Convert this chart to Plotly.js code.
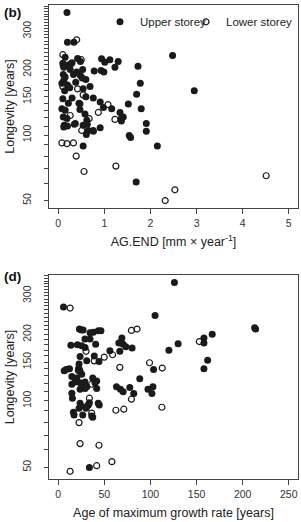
<!DOCTYPE html>
<html>
<head>
<meta charset="utf-8">
<script src="https://cdn.plot.ly/plotly-3.0.1.min.js"></script>
<style>html,body{margin:0;padding:0;background:#fff;}#chart{width:301px;height:522px;}</style>
</head>
<body>
<div id="chart"></div>
<script>
// Panel (b): AG.END [mm/year] vs longevity
const bUpperX = [0.19,0.20,0.34,0.15,0.10,0.22,0.27,0.30,0.42,0.48,0.53,0.40,0.12,0.94,1.01,1.12,1.30,0.78,0.93,0.99,1.23,1.73,2.48,2.95,1.78,1.70,1.52,1.80,1.16,1.34,1.41,1.37,0.91,0.98,0.76,0.69,0.54,0.30,0.10,0.11,0.15,0.12,0.08,0.20,0.25,0.14,0.48,0.52,0.38,0.60,0.08,0.15,0.11,0.19,0.37,0.47,0.58,0.62,0.54,0.65,0.76,0.91,0.61,0.13,0.12,0.20,0.35,0.63,0.76,1.91,1.91,1.54,1.57,2.15,0.54,1.69,1.37,0.22,0.45,0.60,0.26,0.33];
const bUpperY = [366,267,267,228,214,210,212,215,225,218,200,195,205,224,216,222,218,197,198,195,205,207,232,160,173,154,139,132,132,127,121,119,142,134,148,167,163,148,147,190,185,178,173,170,165,160,188,183,175,180,132,130,121,119,113,131,125,117,111,105,105,108,100.7,111,109,110,112,112,104,104,113,99.4,97.3,89,89,60.9,116,140,140,150,200,190];
const bLowerX = [0.40,0.10,0.50,0.11,0.10,0.42,0.54,0.47,1.08,0.87,1.23,0.26,0.67,0.51,0.08,0.19,0.33,0.39,0.56,1.25,2.32,2.53,4.51];
const bLowerY = [274,234,222,209,167,163,153,139,138,127,118,123,119,105,92,91.3,92,80,68,72,50,56,65];

// Panel (d): age of maximum growth rate [years] vs longevity
const dUpperX = [126,5.7,105,213,214,23,25,27,34.5,38,43.4,46.3,167,158,158,29,34.5,69,65.7,70.4,73.3,80.1,130,120,13.7,20.8,25.5,29.1,40.6,56,66.8,23.7,39.1,44.2,30.9,22.6,103.4,162,158,6.5,12.2,21.9,23.7,25.5,88.4,14.8,18.3,23.7,29.1,37.4,41.7,14.8,27.2,39.9,31,23.7,29.1,41.7,63.2,67.5,70.4,77.6,81.9,97.3,102.7,101.6,14.8,15.4,23.7,24.4,22.6,16.5,17.2,26.6,32.7,33.8,43.4,44.5,36.3,37.4,30.2,33.8,8.6,20.1];
const dUpperY = [345,267,244,215,212,212,210,210,204,205,208,208,201,193,183,191,191,193,183,181,176,174,182,170,179,180,178,175,181,169,168,159,160,151,152,147,139,153,140,137,140,140,136,132,126,129,122,121,122,127,123,119,120,121,116,113,114,114,116,113,110,115,108,113,116,108,108.4,102.9,97.6,94.9,92.6,88.8,86.4,86.4,95.9,98.2,97.6,95.9,85.5,84.3,92.6,49.9,139,127];
const dLowerX = [12.9,79.4,85.5,153,30.2,39.1,49.9,58.9,66.8,99,112.8,21.9,36.3,79.4,112.4,62.5,71.1,33.8,31.6,36.3,22.6,23.7,44.2,58.2,41.7,12.9,23];
const dLowerY = [264,209,212,186,168,152,158,162,142,149,141,137,119,101.8,93.6,90.7,91.7,102.9,94.9,88,79.7,64,62.9,53,50.8,47.9,139];

const seriesNames = ["Upper storey", "Lower storey"];
const bXTicks = [0,1,2,3,4,5];
const dXTicks = [0,50,100,150,200,250];
const yLabeled = [50,100,150,200,300];
const yMinor = [];
for (let v = 50; v <= 400; v += 10) yMinor.push(v);

const ink = "#1a1a1a";
const filled = {size: 7, color: ink, symbol: "circle"};
const hollow = {size: 6, color: ink, symbol: "circle-open", line: {width: 1.2, color: ink}};

const traces = [
  {x: bUpperX, y: bUpperY, type: "scatter", mode: "markers", name: seriesNames[0], marker: filled, xaxis: "x", yaxis: "y", legend: "legend"},
  {x: bLowerX, y: bLowerY, type: "scatter", mode: "markers", name: seriesNames[1], marker: hollow, xaxis: "x", yaxis: "y", legend: "legend2"},
  {x: dUpperX, y: dUpperY, type: "scatter", mode: "markers", name: seriesNames[0], marker: filled, xaxis: "x2", yaxis: "y2", showlegend: false},
  {x: dLowerX, y: dLowerY, type: "scatter", mode: "markers", name: seriesNames[1], marker: hollow, xaxis: "x2", yaxis: "y2", showlegend: false}
];

const W = 301, H = 522;
const frameCol = "#444";
const fontFam = "Liberation Sans, Arial, Helvetica, sans-serif";

function xAxis(range, ticks, title, anchor) {
  return {
    domain: [49/W, 298/W], range: range, anchor: anchor,
    tickvals: ticks, ticktext: ticks.map(String), ticks: "outside", ticklen: 5, tickwidth: 1, tickcolor: frameCol,
    ticklabelstandoff: 0,
    showline: true, mirror: true, linecolor: frameCol, linewidth: 1,
    showgrid: false, zeroline: false,
    tickfont: {size: 10.5, color: "#333", family: fontFam},
    title: {text: title, font: {size: 12.5, color: "#222", family: fontFam}, standoff: 9}
  };
}
function yAxis(range, domain, anchor) {
  return {
    domain: domain, type: "log", range: range, anchor: anchor,
    tickvals: yLabeled, ticktext: yLabeled.map(String), ticks: "outside", ticklen: 4, tickwidth: 1, tickcolor: frameCol,
    minor: {tickvals: yMinor, ticks: "outside", ticklen: 4, tickwidth: 1, tickcolor: frameCol, showgrid: false},
    tickangle: -90, ticklabelstandoff: 9,
    showline: true, mirror: true, linecolor: frameCol, linewidth: 1,
    showgrid: false, zeroline: false,
    tickfont: {size: 10.5, color: "#333", family: fontFam},
    title: {text: "Longevity [years]", font: {size: 12.5, color: "#222", family: fontFam}, standoff: 3}
  };
}

const legendBase = {
  orientation: "h", y: 0.986, xanchor: "left", yanchor: "top",
  bgcolor: "rgba(0,0,0,0)", font: {size: 11.5, color: "#222", family: fontFam},
  itemwidth: 30
};

const layout = {
  width: W, height: H,
  margin: {l: 0, r: 0, t: 0, b: 0},
  paper_bgcolor: "#fff", plot_bgcolor: "#fff",
  font: {family: fontFam, color: "#222"},
  showlegend: true,
  legend: Object.assign({}, legendBase, {x: 100/W}),
  legend2: Object.assign({}, legendBase, {x: 186/W}),
  xaxis: xAxis([-0.2, 5.2], bXTicks, "AG.END [mm × year<sup>-1</sup>]", "y"),
  yaxis: yAxis([Math.log10(46.2), Math.log10(396)], [1 - 208/H, 1 - 5/H], "x"),
  xaxis2: xAxis([-10, 260], dXTicks, "Age of maximum growth rate [years]", "y2"),
  yaxis2: yAxis([Math.log10(44.2), Math.log10(373)], [1 - 479/H, 1 - 275/H], "x2"),
  annotations: [
    {text: "<b>(b)</b>", xref: "paper", yref: "paper", x: 2/W, y: 1 - 3/H, xanchor: "left", yanchor: "top", showarrow: false, font: {size: 13.5, color: "#111", family: fontFam}},
    {text: "<b>(d)</b>", xref: "paper", yref: "paper", x: 2/W, y: 1 - 267/H, xanchor: "left", yanchor: "top", showarrow: false, font: {size: 13.5, color: "#111", family: fontFam}}
  ]
};

Plotly.newPlot("chart", traces, layout, {staticPlot: true, displayModeBar: false});
</script>
</body>
</html>
